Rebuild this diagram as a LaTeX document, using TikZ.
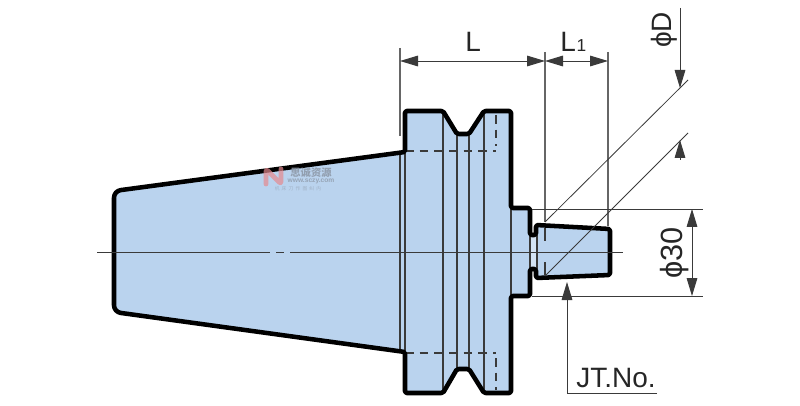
\documentclass[tikz,border=0pt]{standalone}
\usepackage{fontspec}
\setmainfont{Liberation Sans}
\newfontfamily\cjkwm{Noto Sans CJK SC}
\usetikzlibrary{arrows.meta}
\definecolor{bodyblue}{HTML}{BAD3EE}
\definecolor{neckblue}{HTML}{D3E3F4}
\definecolor{thinline}{HTML}{3A3A3A}
\definecolor{extline}{HTML}{666666}
\definecolor{wmred}{HTML}{E58A8F}
\definecolor{wmgrey}{HTML}{8C97A6}
\tikzset{
  x=0.75pt,y=-0.75pt,
  outline/.style={draw=black,line width=3.4pt,line join=round},
  inner/.style={draw=thinline,line width=0.85pt},
  hidden/.style={draw=thinline,line width=0.85pt,dash pattern=on 6.5pt off 4.5pt},
  extension/.style={draw=extline,line width=0.8pt},
  thin/.style={draw=thinline,line width=0.6pt},
  dimline/.style={draw=thinline,line width=0.7pt,{Triangle[length=13.5pt,width=8pt]}-{Triangle[length=13.5pt,width=8pt]}},
  tipend/.style={draw=thinline,line width=0.7pt,-{Triangle[length=13.5pt,width=8pt]}},
  dimtext/.style={inner sep=0pt,font=\fontsize{21}{21}\selectfont,text=black!85},
}
\newcommand{\bodyoutline}{(114,252) [rounded corners=5pt] -- (114,191) [rounded corners=1.2pt] -- (405,152) -- (405,111) -- (443,111) -- (457,134) -- (469,134) -- (484,111) -- (511,111) -- (511,208) -- (530,208) -- (530,235) -- (536,235) -- (536,225) -- (610,229) -- (610,275) -- (536,278) -- (536,269) -- (530,269) -- (530,296) -- (511,296) -- (511,393) -- (484,393) -- (469,369) -- (457,369) -- (443,393) -- (405,393) -- (405,352) [rounded corners=5pt] -- (114,312) -- cycle}
\begin{document}
\begin{tikzpicture}
\useasboundingbox (0,0) rectangle (800,406);
\fill[neckblue] (530,235) rectangle (537,269);
\path[fill=bodyblue] \bodyoutline;
\fill[neckblue] (531,235) rectangle (536,269);
% interior lines
\foreach \xx/\ya/\yb in {400/153/351,405/152/352,443/111/393,457/134/369,469/134/369,484/111/393,511/208/296,530/235/269,537/235/269}
  \draw[inner] (\xx,\ya) -- (\xx,\yb);
\draw[hidden] (405,151) -- (496,151);
\draw[hidden] (405,353) -- (496,353);
\draw[hidden] (496,115) -- (496,146);
\draw[hidden] (496,358) -- (496,390);
\draw[inner,line width=1.1pt] (545,228) -- (545,241);
\draw[inner,line width=1.1pt] (545,262) -- (545,275);
% outline
\draw[outline] \bodyoutline;
% centre line
\coordinate (cA) at (97,252);
\coordinate (cB) at (270,252);
\coordinate (cC) at (276,252);
\coordinate (cD) at (284,252);
\coordinate (cE) at (290,252);
\coordinate (cF) at (623,252);
\draw[thin] (cA) -- (cB);
\draw[thin] (cC) -- (cD);
\draw[thin] (cE) -- (cF);
% extension lines
\coordinate (eLa) at (400,48);
\coordinate (eLb) at (400,136);
\coordinate (eMa) at (545,52);
\coordinate (eMb) at (545,222);
\coordinate (eRa) at (608,52);
\coordinate (eRb) at (608,226);
\draw[extension] (eLa) -- (eLb);
\draw[extension] (eMa) -- (eMb);
\draw[extension] (eRa) -- (eRb);
% diagonals
\coordinate (dUa) at (545,222);
\coordinate (dUb) at (688,80);
\coordinate (dLa) at (545,276);
\coordinate (dLb) at (688,133);
\draw[thin] (dUa) -- (dUb);
\draw[thin] (dLa) -- (dLb);
% L dims
\coordinate (dL1) at (400,61);
\coordinate (dL2) at (545,61);
\coordinate (dL3) at (608,61);
\draw[dimline] (dL1) -- (dL2);
\draw[dimline] (dL2) -- (dL3);
\node[dimtext,anchor=base west] (labL) at (465,52) {L};
\node[dimtext,anchor=base west] (labLa) at (560,52) {L\kern0.5pt{\fontsize{13}{13}\selectfont 1}};
% phi D
\coordinate (pDa) at (680,8);
\coordinate (pDb) at (680,88);
\coordinate (pDc) at (680,160);
\coordinate (pDd) at (680,140);
\draw[tipend] (pDa) -- (pDb);
\draw[tipend] (pDc) -- (pDd);
\node[dimtext,rotate=90,anchor=base] (labD) at (671,30) {ϕD};
% phi 30
\coordinate (p3a) at (532,209);
\coordinate (p3b) at (703,209);
\coordinate (p3c) at (532,296);
\coordinate (p3d) at (703,296);
\coordinate (p3e) at (692,209);
\coordinate (p3f) at (692,296);
\draw[thin] (p3a) -- (p3b);
\draw[thin] (p3c) -- (p3d);
\draw[dimline] (p3e) -- (p3f);
\node[dimtext,rotate=90,anchor=base,font=\fontsize{23}{23}\selectfont] (lab30) at (682,253) {ϕ30};
% JT.No.
\coordinate (jA) at (657,393);
\coordinate (jB) at (567,393);
\coordinate (jC) at (567,282);
\draw[tipend] (jA) -- (jB) -- (jC);
\node[dimtext,anchor=base west] (labJT) at (576,387) {JT.No.};
% watermark
\draw[wmred,line width=3.6pt,opacity=.7,line join=round,line cap=round,rounded corners=2pt] (266,184) -- (266,169) -- (281,184) -- (281,169);
\node[inner sep=0pt,text=wmgrey,opacity=.85,font=\cjkwm\bfseries\fontsize{7.7}{9}\selectfont] (wmA) at (311,172.5) {思诚资源};
\node[inner sep=0pt,text=wmgrey,opacity=.8,font=\bfseries\fontsize{5}{6}\selectfont] (wmB) at (311,181) {www.sczy.com};
\node[inner sep=0pt,text=wmgrey,opacity=.55,font=\cjkwm\fontsize{3.6}{4}\selectfont] (wmC) at (298,188.5) {机\ \ 床\ \ 刀\ \ 作\ \ 图\ \ 纠\ \ 内};
\end{tikzpicture}
\end{document}
